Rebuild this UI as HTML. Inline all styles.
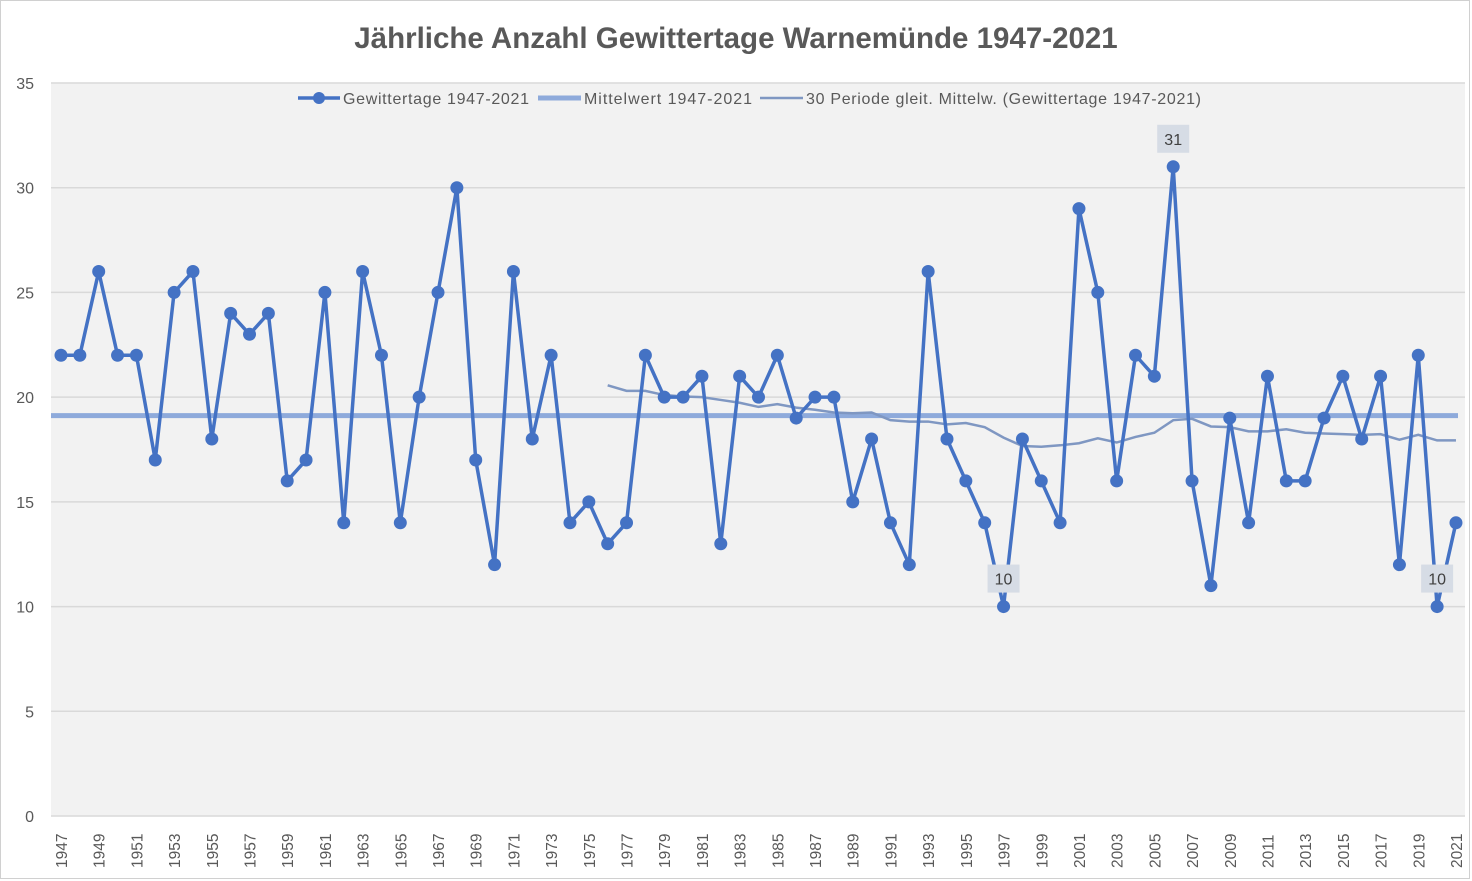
<!DOCTYPE html>
<html><head><meta charset="utf-8"><style>
html,body{margin:0;padding:0;background:#fff;}
svg{display:block;font-family:"Liberation Sans",Calibri,sans-serif;}
</style></head><body>
<svg id="c" width="1472" height="881" xmlns="http://www.w3.org/2000/svg">
<rect x="0.5" y="0.5" width="1469" height="878" fill="#fff" stroke="#d0d0d0"/>
<rect x="51" y="83" width="1414" height="733" fill="#f2f2f2"/>
<text x="736" y="48" text-anchor="middle" font-size="29.5" font-weight="bold" fill="#595959">Jährliche Anzahl Gewittertage Warnemünde 1947-2021</text>
<g id="g"></g>
</svg>
<script>
var d=[22,22,26,22,22,17,25,26,18,24,23,24,16,17,25,14,26,22,14,20,25,30,17,12,26,18,22,14,15,13,14,22,20,20,21,13,21,20,22,19,20,20,15,18,14,12,26,18,16,14,10,18,16,14,29,25,16,22,21,31,16,11,19,14,21,16,16,19,21,18,21,12,22,10,14];
var g=document.getElementById('g'),h='';
function X(i){return 61+i*18.851;}function Y(v){return 816-v*20.943;}
for(var v=0;v<=35;v+=5){var y=Y(v);h+='<line x1="51" x2="1465" y1="'+y+'" y2="'+y+'" stroke="#d9d9d9" stroke-width="1.5"/>';h+='<text x="34" y="'+(y+6)+'" text-anchor="end" font-size="16" fill="#595959">'+v+'</text>';}
for(var i=0;i<d.length;i+=2){var x=X(i)+6;h+='<text transform="translate('+x+',868) rotate(-90)" font-size="15.5" fill="#595959">'+(1947+i)+'</text>';}
var s=0;for(i=0;i<d.length;i++)s+=d[i];var m=s/d.length;
h+='<line x1="51" x2="1458" y1="'+Y(m)+'" y2="'+Y(m)+'" stroke="#8eaadb" stroke-width="5"/>';
var p='';for(i=29;i<d.length;i++){var a=0;for(var k=i-29;k<=i;k++)a+=d[k];a/=30;p+=(i==29?'M':'L')+X(i)+','+Y(a);}
h+='<path d="'+p+'" fill="none" stroke="#7f97c2" stroke-width="2.5"/>';
p='';for(i=0;i<d.length;i++)p+=(i?'L':'M')+X(i)+','+Y(d[i]);
h+='<path d="'+p+'" fill="none" stroke="#4472c4" stroke-width="3.5" stroke-linejoin="round"/>';
for(i=0;i<d.length;i++)h+='<circle cx="'+X(i)+'" cy="'+Y(d[i])+'" r="6.5" fill="#4472c4"/>';
function lab(i,t,dy){var x=X(i),y=Y(d[i])+dy;h+='<rect x="'+(x-16)+'" y="'+(y-14)+'" width="32" height="28" fill="#d6dce5"/><text x="'+x+'" y="'+(y+6)+'" text-anchor="middle" font-size="16" fill="#404040">'+t+'</text>';}
lab(50,'10',-28);lab(59,'31',-28);lab(73,'10',-28);
h+='<line x1="298" x2="340" y1="98" y2="98" stroke="#4472c4" stroke-width="3.5"/><circle cx="319" cy="98" r="6" fill="#4472c4"/><text x="343" y="104" font-size="16" fill="#595959" textLength="186">Gewittertage 1947-2021</text>';
h+='<line x1="538" x2="581" y1="98" y2="98" stroke="#8eaadb" stroke-width="5"/><text x="584" y="104" font-size="16" fill="#595959" textLength="168">Mittelwert 1947-2021</text>';
h+='<line x1="760" x2="803" y1="98" y2="98" stroke="#7f97c2" stroke-width="2.5"/><text x="806" y="104" font-size="16" fill="#595959" textLength="395">30 Periode gleit. Mittelw. (Gewittertage 1947-2021)</text>';
g.innerHTML=h;
</script>
</body></html>
